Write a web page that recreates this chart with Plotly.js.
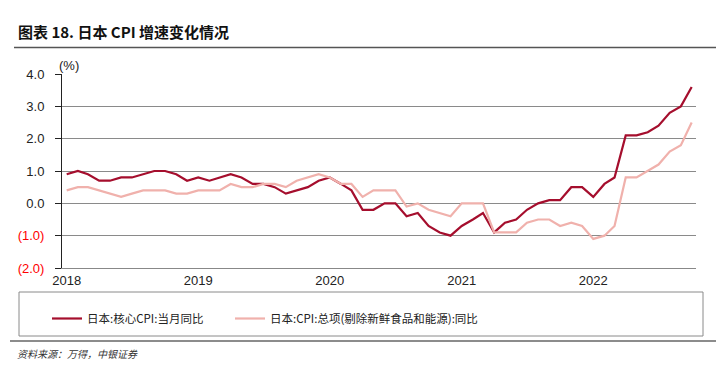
<!DOCTYPE html>
<html>
<head>
<meta charset="utf-8">
<script src="https://cdn.plot.ly/plotly-3.0.1.min.js"></script>
<style>
html,body{margin:0;padding:0;background:#fff;}
#chart{width:716px;height:370px;}
</style>
</head>
<body>
<div id="chart"></div>
<script>
// Months (Jan 2018 – Oct 2022)
const months = [
  '2018-01','2018-02','2018-03','2018-04','2018-05','2018-06','2018-07','2018-08','2018-09','2018-10','2018-11','2018-12',
  '2019-01','2019-02','2019-03','2019-04','2019-05','2019-06','2019-07','2019-08','2019-09','2019-10','2019-11','2019-12',
  '2020-01','2020-02','2020-03','2020-04','2020-05','2020-06','2020-07','2020-08','2020-09','2020-10','2020-11','2020-12',
  '2021-01','2021-02','2021-03','2021-04','2021-05','2021-06','2021-07','2021-08','2021-09','2021-10','2021-11','2021-12',
  '2022-01','2022-02','2022-03','2022-04','2022-05','2022-06','2022-07','2022-08','2022-09','2022-10'
];
// 日本:核心CPI:当月同比 (%)
const coreCPI = [
  0.9, 1.0, 0.9, 0.7, 0.7, 0.8, 0.8, 0.9, 1.0, 1.0, 0.9, 0.7,
  0.8, 0.7, 0.8, 0.9, 0.8, 0.6, 0.6, 0.5, 0.3, 0.4, 0.5, 0.7,
  0.8, 0.6, 0.4, -0.2, -0.2, 0.0, 0.0, -0.4, -0.3, -0.7, -0.9, -1.0,
  -0.7, -0.5, -0.3, -0.9, -0.6, -0.5, -0.2, 0.0, 0.1, 0.1, 0.5, 0.5,
  0.2, 0.6, 0.8, 2.1, 2.1, 2.2, 2.4, 2.8, 3.0, 3.6
];
// 日本:CPI:总项(剔除新鲜食品和能源):同比 (%)
const coreCoreCPI = [
  0.4, 0.5, 0.5, 0.4, 0.3, 0.2, 0.3, 0.4, 0.4, 0.4, 0.3, 0.3,
  0.4, 0.4, 0.4, 0.6, 0.5, 0.5, 0.6, 0.6, 0.5, 0.7, 0.8, 0.9,
  0.8, 0.6, 0.6, 0.2, 0.4, 0.4, 0.4, -0.1, 0.0, -0.2, -0.3, -0.4,
  0.0, 0.0, 0.0, -0.9, -0.9, -0.9, -0.6, -0.5, -0.5, -0.7, -0.6, -0.7,
  -1.1, -1.0, -0.7, 0.8, 0.8, 1.0, 1.2, 1.6, 1.8, 2.5
];
const seriesNames = ['日本:核心CPI:当月同比', '日本:CPI:总项(剔除新鲜食品和能源):同比'];
const yTickVals = [-2, -1, 0, 1, 2, 3, 4];
const yTickText = ['(2.0)', '(1.0)', '0.0', '1.0', '2.0', '3.0', '4.0'];

const CJK = '"Noto Sans CJK SC", "Liberation Sans", Arial, sans-serif';
const LAT = '"Liberation Sans", Arial, sans-serif';

const traces = [
  {x: months, y: coreCPI, name: seriesNames[0], type: 'scatter', mode: 'lines',
   line: {color: '#A50E2D', width: 2.2}, legend: 'legend'},
  {x: months, y: coreCoreCPI, name: seriesNames[1], type: 'scatter', mode: 'lines',
   line: {color: '#F0B1AC', width: 2.2}, legend: 'legend2'}
];

const legendCommon = {
  orientation: 'h', xanchor: 'left',
  y: (268 - 304) / 194, yanchor: 'top',
  bgcolor: 'rgba(0,0,0,0)', borderwidth: 0,
  font: {family: CJK, size: 11.5, color: '#222'},
  itemwidth: 30
};

const layout = {
  width: 716, height: 370,
  margin: {l: 62, r: 20, t: 74, b: 102},
  paper_bgcolor: '#fff', plot_bgcolor: '#fff',
  showlegend: true,
  title: {
    text: '图表 18. 日本 CPI 增速变化情况',
    font: {family: CJK, size: 15, color: '#111', weight: 'bold'},
    x: 18/716, xanchor: 'left', xref: 'container',
    y: 1 - 33/370, yanchor: 'middle', yref: 'container'
  },
  xaxis: {
    type: 'date',
    range: ['2017-12-19', '2022-10-13'],
    tickformat: '%Y', dtick: 'M12', tick0: '2018-01-01',
    showgrid: false, zeroline: false,
    showline: true, linecolor: '#888', linewidth: 1,
    ticks: '',
    tickfont: {family: LAT, size: 13, color: '#222'},
    fixedrange: true
  },
  yaxis: {
    range: [-2, 4],
    tickmode: 'array', tickvals: yTickVals,
    ticktext: yTickText.map((t, i) => yTickVals[i] < 0 ? '<span style="color:#FF0000">' + t + '</span>' : t),
    showgrid: true, gridcolor: '#8a8a8a', gridwidth: 1,
    zeroline: true, zerolinecolor: '#8a8a8a', zerolinewidth: 1,
    showline: true, linecolor: '#222', linewidth: 1,
    ticks: 'outside', ticklen: 6, tickcolor: '#222',
    ticklabelstandoff: 8,
    tickfont: {family: LAT, size: 13, color: '#222'},
    fixedrange: true
  },
  legend: Object.assign({}, legendCommon, {x: (47 - 62) / 634}),
  legend2: Object.assign({}, legendCommon, {x: (230 - 62) / 634}),
  shapes: [
    // line under title
    {type: 'line', xref: 'paper', yref: 'paper',
     x0: (14 - 62) / 634, x1: (716 - 62) / 634, y0: (268 - 47.5) / 194, y1: (268 - 47.5) / 194,
     line: {color: '#555', width: 1.5}},
    // legend box
    {type: 'rect', xref: 'paper', yref: 'paper',
     x0: (19 - 62) / 634, x1: (703 - 62) / 634, y0: (268 - 292) / 194, y1: (268 - 336) / 194,
     line: {color: '#8a8a8a', width: 1}, fillcolor: 'rgba(0,0,0,0)'},
    // bottom line
    {type: 'line', xref: 'paper', yref: 'paper',
     x0: (10 - 62) / 634, x1: (716 - 62) / 634, y0: (268 - 341) / 194, y1: (268 - 341) / 194,
     line: {color: '#666', width: 1.5}}
  ],
  annotations: [
    {text: '(%)', xref: 'paper', yref: 'paper', x: (57 - 62) / 634, xanchor: 'left',
     y: (268 - 66) / 194, yanchor: 'middle', showarrow: false,
     font: {family: LAT, size: 13, color: '#222'}},
    {text: '<i>资料来源：万得，中银证券</i>', xref: 'paper', yref: 'paper',
     x: (15 - 62) / 634, xanchor: 'left', y: (268 - 353) / 194, yanchor: 'middle',
     showarrow: false, font: {family: CJK, size: 10, color: '#333'}}
  ]
};

Plotly.newPlot('chart', traces, layout, {displayModeBar: false, staticPlot: true});
</script>
</body>
</html>
